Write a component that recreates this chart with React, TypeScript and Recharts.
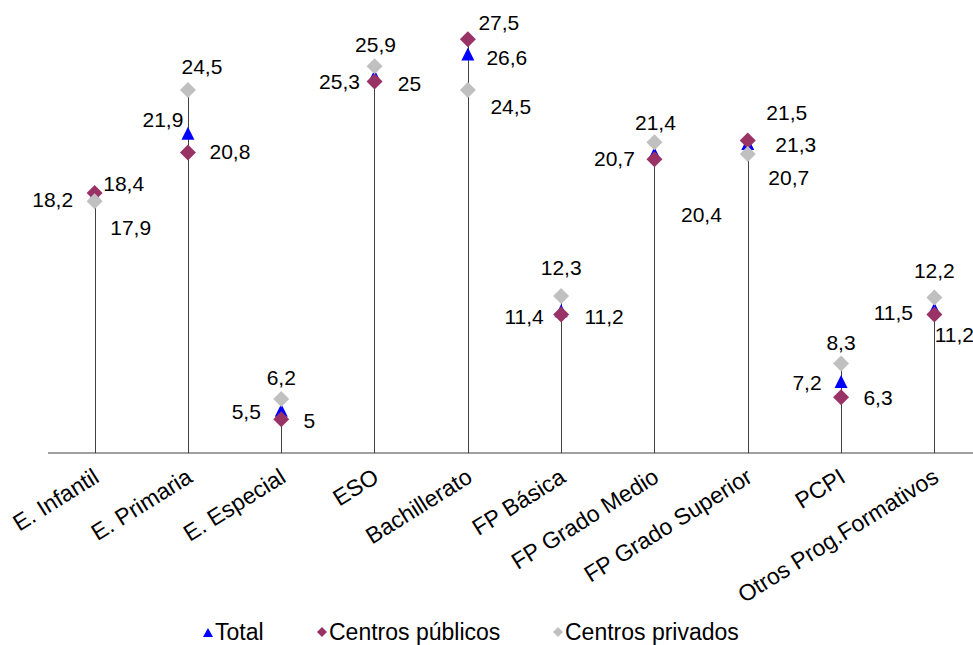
import React from 'react';
import { ComposedChart, Bar, Line, XAxis, YAxis, LabelList } from 'recharts';

const categories = [
  'E. Infantil',
  'E. Primaria',
  'E. Especial',
  'ESO',
  'Bachillerato',
  'FP Básica',
  'FP Grado Medio',
  'FP Grado Superior',
  'PCPI',
  'Otros Prog.Formativos',
];
const totalValues = [18.2, 21.9, 5.5, 25.3, 26.6, 11.4, 20.7, 21.3, 7.2, 11.5];
const publicValues = [18.4, 20.8, 5, 25, 27.5, 11.2, 20.4, 21.5, 6.3, 11.2];
const privateValues = [17.9, 24.5, 6.2, 25.9, 24.5, 12.3, 21.4, 20.7, 8.3, 12.2];

// label placement (text centre relative to marker), px
const totalLabelOffsets = [[-42, 3], [-25, -14], [-35, 1], [-35, 5], [39, 3], [-37, 5], [-40, 4], [48, 1], [-34, 0], [-41, 3]];
const publicLabelOffsets = [[29, -9], [42, -1], [28, 1], [35, 2], [31, -17], [43, 2], [47, 55], [39, -28], [37, 0], [20, 20]];
const privateLabelOffsets = [[36, 26], [14, -23], [0, -21], [1, -22], [43, 17], [0, -28], [1, -20], [41, 23], [0, -21], [0, -27]];

const FONT = '"Liberation Sans", Arial, sans-serif';
const BLUE = '#0000ff';
const PURPLE = '#993366';
const GREY = '#c0c0c0';

const data = categories.map((name, i) => ({
  name,
  total: totalValues[i],
  publico: publicValues[i],
  privado: privateValues[i],
  top: Math.max(totalValues[i], publicValues[i], privateValues[i]),
}));

const fmt = (v: number) => String(v).replace('.', ',');

const makeLabel = (offsets: number[][]) => (p: any) => {
  const off = offsets[p.index] || [0, 0];
  return (
    <text
      x={p.x + off[0]}
      y={p.y + off[1]}
      textAnchor="middle"
      dominantBaseline="central"
      fontSize={21}
      fontFamily={FONT}
      fill="#000"
    >
      {fmt(p.value)}
    </text>
  );
};

const diamond = (color: string, prefix: string) => (p: any) => (
  <path
    key={`${prefix}-${p.index}`}
    d={`M${p.cx},${p.cy - 8} L${p.cx + 8},${p.cy} L${p.cx},${p.cy + 8} L${p.cx - 8},${p.cy} Z`}
    fill={color}
  />
);

const triangle = (p: any) => (
  <path
    key={`t-${p.index}`}
    d={`M${p.cx},${p.cy - 7} L${p.cx + 6.5},${p.cy + 6} L${p.cx - 6.5},${p.cy + 6} Z`}
    fill={BLUE}
  />
);

const DropLine = (p: any) => {
  const x = Math.round(p.x + p.width / 2) + 0.5;
  return <line x1={x} x2={x} y1={p.y} y2={p.y + p.height} stroke="#404040" strokeWidth={1} />;
};

const CategoryTick = (p: any) => (
  <text
    x={p.x + 6}
    y={p.y + 20}
    textAnchor="end"
    fontSize={23}
    fontFamily={FONT}
    fill="#000"
    transform={`rotate(-32, ${p.x + 6}, ${p.y + 20})`}
  >
    {p.payload.value}
  </text>
);

const legendItems = [
  { label: 'Total', color: BLUE, shape: 'triangle', left: 194 },
  { label: 'Centros públicos', color: PURPLE, shape: 'diamond', left: 308 },
  { label: 'Centros privados', color: GREY, shape: 'diamond', left: 544 },
];

export default function App() {
  return (
    <>
      <style>{'html, body { margin: 0; overflow: hidden; }'}</style>
      <div
        style={{
          position: 'absolute',
          left: 8,
          top: -3,
          width: 990,
          height: 660,
          fontFamily: FONT,
        }}
      >
        <ComposedChart
          width={990}
          height={660}
          data={data}
          margin={{ top: 0, right: 17, left: 40, bottom: 54 }}
        >
          <XAxis
            dataKey="name"
            interval={0}
            height={150}
            tickLine={false}
            axisLine={{ stroke: '#404040' }}
            tick={<CategoryTick />}
          />
          <YAxis hide type="number" domain={[3, 30]} allowDataOverflow />
          <Bar dataKey="top" barSize={1} shape={<DropLine />} isAnimationActive={false} />
          <Line
            dataKey="total"
            stroke="none"
            dot={triangle}
            activeDot={false}
            isAnimationActive={false}
          >
            <LabelList dataKey="total" content={makeLabel(totalLabelOffsets)} />
          </Line>
          <Line
            dataKey="publico"
            stroke="none"
            dot={diamond(PURPLE, 'pu')}
            activeDot={false}
            isAnimationActive={false}
          >
            <LabelList dataKey="publico" content={makeLabel(publicLabelOffsets)} />
          </Line>
          <Line
            dataKey="privado"
            stroke="none"
            dot={diamond(GREY, 'pr')}
            activeDot={false}
            isAnimationActive={false}
          >
            <LabelList dataKey="privado" content={makeLabel(privateLabelOffsets)} />
          </Line>
        </ComposedChart>
        {legendItems.map((item) => (
          <div
            key={item.label}
            style={{
              position: 'absolute',
              top: 622,
              left: item.left,
              display: 'flex',
              alignItems: 'center',
              fontSize: 23,
              color: '#000',
              lineHeight: '26px',
            }}
          >
            <svg width={12} height={12} style={{ marginRight: 1 }}>
              {item.shape === 'triangle' ? (
                <path d="M6,2 L11,11 L1,11 Z" fill={item.color} />
              ) : (
                <path d="M6,1 L11,6 L6,11 L1,6 Z" fill={item.color} />
              )}
            </svg>
            <span>{item.label}</span>
          </div>
        ))}
      </div>
    </>
  );
}
